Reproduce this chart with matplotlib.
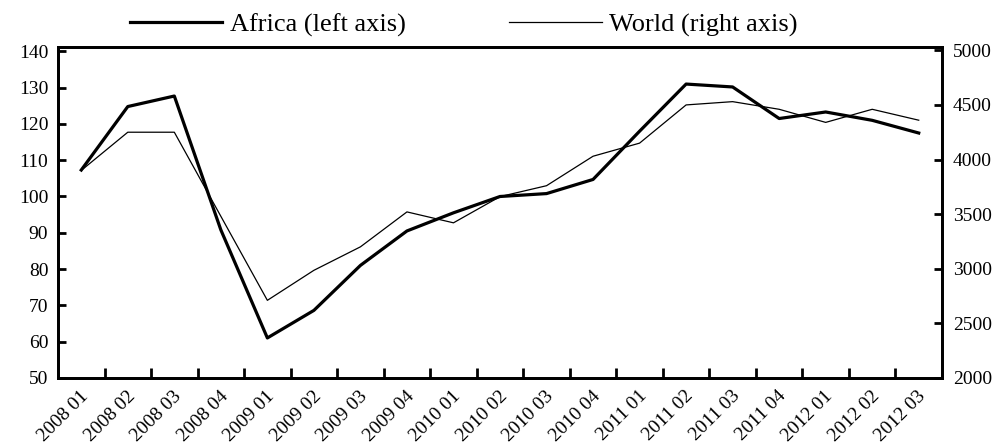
import numpy as np
import matplotlib
matplotlib.use("Agg")
import matplotlib.pyplot as plt
from matplotlib.transforms import ScaledTranslation

plt.rcParams['font.family'] = ['Liberation Serif', 'DejaVu Serif']

# quarters
quarters = ['2008 01', '2008 02', '2008 03', '2008 04',
            '2009 01', '2009 02', '2009 03', '2009 04',
            '2010 01', '2010 02', '2010 03', '2010 04',
            '2011 01', '2011 02', '2011 03', '2011 04',
            '2012 01', '2012 02', '2012 03']

# Africa, left axis
africa = [107.3, 124.8, 127.7, 90.8, 61.0, 68.6, 81.0, 90.5, 95.5, 100.0,
          100.8, 104.7, 118.0, 131.0, 130.2, 121.5, 123.3, 121.0, 117.5]

# World, right axis
world = [3900, 4250, 4250, 3480, 2710, 2985, 3200, 3520, 3420, 3660,
         3760, 4030, 4150, 4500, 4530, 4460, 4340, 4460, 4360]

left_ticks = [50, 60, 70, 80, 90, 100, 110, 120, 130, 140]
right_ticks = [2000, 2500, 3000, 3500, 4000, 4500, 5000]

fig = plt.figure(figsize=(10, 4.44), dpi=100)
ax = fig.add_axes([0.058, 0.149, 0.884, 0.745])
ax2 = ax.twinx()

x = np.arange(len(quarters))
l1, = ax.plot(x, africa, color='black', lw=2.3, label='Africa (left axis)')
l2, = ax2.plot(x, world, color='black', lw=0.9, label='World (right axis)')

ax.set_xlim(-0.5, len(quarters) - 0.5)
ax.set_ylim(50, 141.2)
ax2.set_ylim(2000, 5030)

ax.set_yticks(left_ticks)
ax2.set_yticks(right_ticks)

# category boundaries get the tick marks, labels sit at the centres
ax.set_xticks(x)
ax.set_xticklabels(quarters, rotation=45, ha='right', va='top', rotation_mode='anchor')
ax.set_xticks(x[:-1] + 0.5, minor=True)
ax.tick_params(axis='x', which='major', length=0, pad=7, labelsize=14)
ax.tick_params(axis='x', which='minor', direction='in', length=7, width=2)
ax.tick_params(axis='y', direction='in', length=6, width=2, labelsize=14, pad=7)
ax2.tick_params(axis='y', direction='in', length=6, width=2, labelsize=14, pad=8)

offset = ScaledTranslation(-1 / 72, 0, fig.dpi_scale_trans)
for lab in ax.get_xticklabels():
    lab.set_transform(lab.get_transform() + offset)

for a in (ax, ax2):
    for s in a.spines.values():
        s.set_linewidth(2)

fig.legend(handles=[l1, l2], loc='center', bbox_to_anchor=(0.464, 0.944), ncol=2,
           frameon=False, fontsize=19, handlelength=3.5, handletextpad=0.3,
           columnspacing=3.9)

fig.savefig('out.png', dpi=100)
